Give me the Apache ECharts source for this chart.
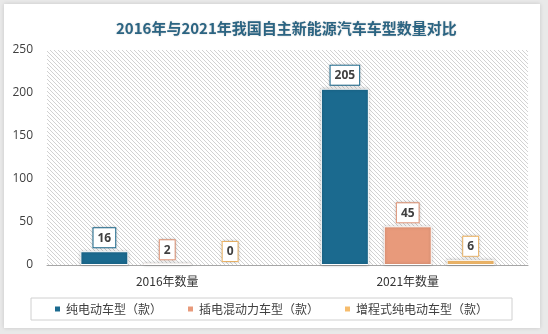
<!DOCTYPE html>
<html>
<head>
<meta charset="utf-8">
<script src="https://cdn.jsdelivr.net/npm/echarts@6/dist/echarts.min.js"></script>
<style>
  html, body { margin: 0; padding: 0; background: #e9e9e9; }
  #chart { width: 548px; height: 334px; }
</style>
</head>
<body>
<div id="chart"></div>
<script>
// Categories, series names and values
var categories = ['2016年数量', '2021年数量'];
var seriesNames = ['纯电动车型（款）', '插电混动力车型（款）', '增程式纯电动车型（款）'];
var pureEV = [16, 205];
var plugInHybrid = [2, 45];
var rangeExtender = [0, 6];
var yTicks = { min: 0, max: 250, interval: 50 };

var colors = ['#1b6a8f', '#e89a7b', '#f6bc6c'];
var seriesData = [pureEV, plugInHybrid, rangeExtender];

// Diagonal hatch pattern for the plot background
function hatchPattern() {
  var c = document.createElement('canvas');
  c.width = 4; c.height = 4;
  var ctx = c.getContext('2d');
  ctx.fillStyle = '#ffffff';
  ctx.fillRect(0, 0, 4, 4);
  ctx.strokeStyle = '#d2d2d2';
  ctx.lineWidth = 1;
  ctx.beginPath();
  ctx.moveTo(-1, -1); ctx.lineTo(5, 5);
  ctx.moveTo(-1, 3); ctx.lineTo(1, 5);
  ctx.moveTo(3, -1); ctx.lineTo(5, 1);
  ctx.stroke();
  return { image: c, repeat: 'repeat' };
}

var chart = echarts.init(document.getElementById('chart'), null, { renderer: 'canvas' });

var series = seriesData.map(function (vals, i) {
  return {
    name: seriesNames[i],
    type: 'bar',
    data: vals.map(function (v) {
      // zero values get no visible bar or shadow
      return v === 0 ? { value: v, itemStyle: { borderWidth: 0, shadowBlur: 0 } } : v;
    }),
    barWidth: 48,
    barGap: '31%',
    itemStyle: {
      color: colors[i],
      borderColor: '#ffffff',
      borderWidth: 1,
      shadowBlur: 3,
      shadowColor: 'rgba(0,0,0,0.25)'
    },
    label: {
      show: true,
      position: 'top',
      distance: 4,
      color: '#404040',
      fontSize: 12,
      fontWeight: 'bold',
      fontFamily: 'Open Sans, sans-serif',
      backgroundColor: '#ffffff',
      borderColor: colors[i],
      borderWidth: 1,
      padding: [4, 4, 3, 4],
      shadowBlur: 3,
      shadowColor: 'rgba(0,0,0,0.2)'
    }
  };
});

chart.setOption({
  backgroundColor: '#e9e9e9',
  animation: false,
  graphic: [{
    type: 'rect',
    left: 4, top: 4, z: -10,
    shape: { width: 536, height: 324 },
    style: { fill: '#ffffff', shadowBlur: 4, shadowColor: 'rgba(0,0,0,0.15)' }
  }],
  title: {
    text: '2016年与2021年我国自主新能源汽车车型数量对比',
    left: 111,
    top: 16,
    textStyle: {
      color: '#2b6482',
      fontSize: 15,
      fontWeight: 'bold',
      fontFamily: 'Noto Sans CJK SC',
      textShadowColor: 'rgba(0,0,0,0.2)',
      textShadowBlur: 2
    }
  },
  legend: {
    left: 31,
    top: 298,
    padding: [5, 24, 5, 22],
    itemGap: 24,
    itemWidth: 7,
    itemHeight: 7,
    icon: 'rect',
    borderColor: '#d0d0d0',
    borderWidth: 1,
    textStyle: { color: '#404040', fontSize: 12, fontFamily: 'Noto Sans CJK SC' },
    data: seriesNames
  },
  grid: {
    left: 47, right: 20, top: 50, bottom: 69,
    show: true,
    backgroundColor: hatchPattern(),
    borderWidth: 0
  },
  xAxis: {
    type: 'category',
    data: categories,
    axisTick: { show: false },
    axisLine: { lineStyle: { color: '#a6a6a6', width: 1 } },
    axisLabel: { color: '#333333', fontSize: 12, margin: 10, fontFamily: 'Noto Sans CJK SC' }
  },
  yAxis: {
    type: 'value',
    min: yTicks.min,
    max: yTicks.max,
    interval: yTicks.interval,
    splitLine: { show: false },
    axisLine: { show: false },
    axisTick: { show: false },
    axisLabel: { color: '#404040', fontSize: 12, margin: 14, fontFamily: 'Open Sans, sans-serif' }
  },
  series: series
});
</script>
</body>
</html>
